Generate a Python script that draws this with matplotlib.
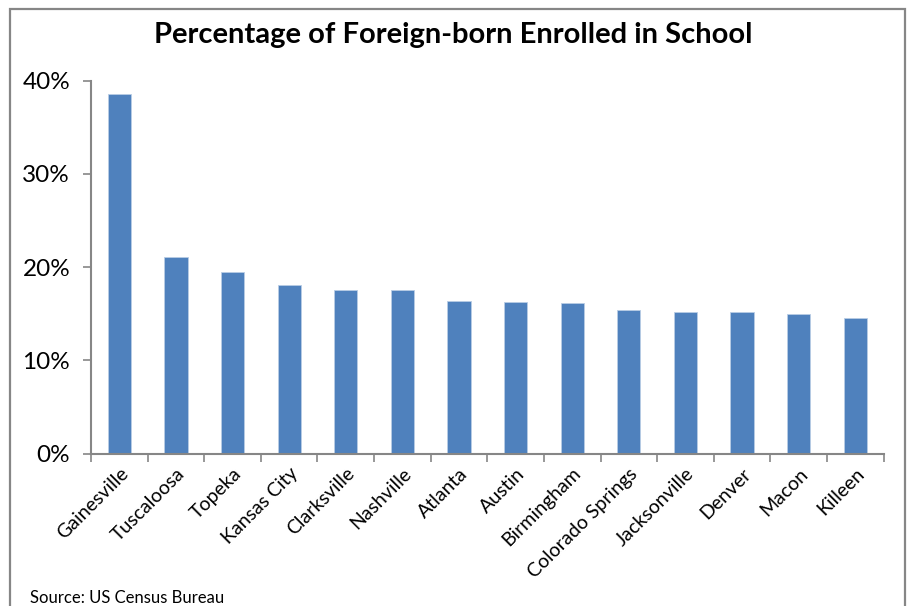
import matplotlib.pyplot as plt
from matplotlib.ticker import FixedLocator, PercentFormatter
from matplotlib.patches import Rectangle

cities = ["Gainesville", "Tuscaloosa", "Topeka", "Kansas City", "Clarksville",
          "Nashville", "Atlanta", "Austin", "Birmingham", "Colorado Springs",
          "Jacksonville", "Denver", "Macon", "Killeen"]
pct = [38.6, 21.1, 19.5, 18.1, 17.6, 17.55, 16.4, 16.3, 16.15, 15.4, 15.25, 15.2, 14.95, 14.6]
yticks = [0, 10, 20, 30, 40]

barcolor = "#4F81BD"
gray = "#868686"
plt.rcParams['font.family'] = ['Lato', 'DejaVu Sans']

fig = plt.figure(figsize=(9.1, 6.06), dpi=100)
ax = fig.add_axes([0.1, 0.2513, 0.871, 0.6155])

x = list(range(len(cities)))
ax.bar(x, pct, width=0.41, color=barcolor, edgecolor="#B9CDE5", linewidth=0.6)

ax.set_xlim(-0.5, len(cities) - 0.5)
ax.set_ylim(0, 40)
ax.set_yticks(yticks)
ax.yaxis.set_major_formatter(PercentFormatter(decimals=0))
ax.tick_params(axis='y', labelsize=17.5, length=6, width=1.2, color=gray, pad=9)

# category labels at bar centres, tick marks at bar boundaries
ax.set_xticks(x)
ax.set_xticklabels(cities, rotation=45, ha='right', rotation_mode='anchor', fontsize=14)
ax.tick_params(axis='x', which='major', length=0, pad=8)
ax.xaxis.set_minor_locator(FixedLocator([i - 0.5 for i in range(len(cities) + 1)]))
ax.tick_params(axis='x', which='minor', length=6, width=1.2, color=gray)

for s in ['top', 'right']:
    ax.spines[s].set_visible(False)
for s in ['left', 'bottom']:
    ax.spines[s].set_color(gray)
    ax.spines[s].set_linewidth(1.5)

fig.text(0.498, 0.943, "Percentage of Foreign-born Enrolled in School",
         ha='center', va='center', fontsize=21, fontweight='bold')
fig.text(0.033, 0.013, "Source: US Census Bureau", ha='left', va='center', fontsize=12)

# chart frame (runs off the bottom edge)
fig.patches.append(Rectangle((10 / 910, -0.05), 895 / 910, 1 - 9 / 606 + 0.05,
                             transform=fig.transFigure, fill=False,
                             edgecolor=gray, linewidth=1.6))

fig.savefig("out.png", dpi=100)
